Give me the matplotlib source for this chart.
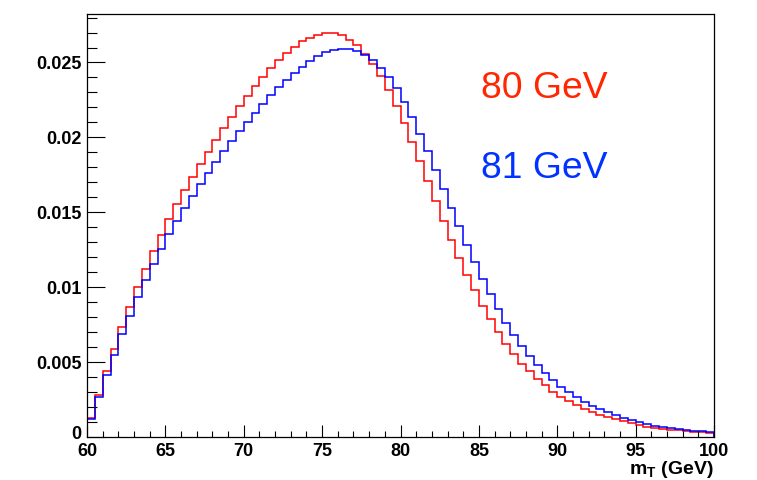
import numpy as np
import matplotlib
matplotlib.use("Agg")
import matplotlib.pyplot as plt
import matplotlib.transforms as mtransforms
from matplotlib.ticker import MultipleLocator, FuncFormatter

plt.rcParams['font.family'] = ['Liberation Sans', 'DejaVu Sans']
plt.rcParams['mathtext.fontset'] = 'custom'
plt.rcParams['mathtext.rm'] = 'Liberation Sans:bold'
plt.rcParams['mathtext.bf'] = 'Liberation Sans:bold'

# histogram binning (GeV)
mt_lo = 60
mt_hi = 100
bin_width = 0.5

# normalised m_T distributions, one value per 0.5 GeV bin
h_80 = [0.00129, 0.00282, 0.00438, 0.00587, 0.00731, 0.00869, 0.01000, 0.01122, 0.01240, 0.01347,
        0.01453, 0.01553, 0.01647, 0.01735, 0.01820, 0.01902, 0.01984, 0.02062, 0.02135, 0.02207,
        0.02275, 0.02342, 0.02402, 0.02460, 0.02515, 0.02564, 0.02602, 0.02642, 0.02663, 0.02684,
        0.02697, 0.02697, 0.02681, 0.02653, 0.02616, 0.02558, 0.02493, 0.02411, 0.02316, 0.02211,
        0.02096, 0.01971, 0.01844, 0.01707, 0.01573, 0.01444, 0.01315, 0.01193, 0.01084, 0.00978,
        0.00875, 0.00787, 0.00700, 0.00622, 0.00555, 0.00489, 0.00440, 0.00389, 0.00344, 0.00300,
        0.00268, 0.00240, 0.00213, 0.00189, 0.00169, 0.00149, 0.00131, 0.00118, 0.00104, 0.00091,
        0.00078, 0.00069, 0.00062, 0.00056, 0.00049, 0.00044, 0.00040, 0.00036, 0.00031, 0.00029]

h_81 = [0.00119, 0.00265, 0.00411, 0.00550, 0.00687, 0.00811, 0.00936, 0.01049, 0.01155, 0.01255,
        0.01355, 0.01444, 0.01529, 0.01611, 0.01689, 0.01762, 0.01838, 0.01907, 0.01975, 0.02042,
        0.02104, 0.02164, 0.02224, 0.02280, 0.02335, 0.02384, 0.02429, 0.02470, 0.02509, 0.02542,
        0.02569, 0.02582, 0.02591, 0.02591, 0.02578, 0.02553, 0.02518, 0.02462, 0.02404, 0.02327,
        0.02233, 0.02133, 0.02022, 0.01907, 0.01782, 0.01655, 0.01527, 0.01407, 0.01284, 0.01167,
        0.01055, 0.00955, 0.00855, 0.00762, 0.00682, 0.00607, 0.00540, 0.00482, 0.00429, 0.00378,
        0.00335, 0.00298, 0.00267, 0.00233, 0.00209, 0.00184, 0.00164, 0.00144, 0.00127, 0.00111,
        0.00098, 0.00084, 0.00075, 0.00067, 0.00058, 0.00051, 0.00047, 0.00042, 0.00038, 0.00033]

labels = ["80 GeV", "81 GeV"]

edges = np.arange(mt_lo, mt_hi + bin_width / 2, bin_width)

fig = plt.figure(figsize=(7.57, 4.8), dpi=100)
ax = fig.add_axes([87 / 757, 1 - 437 / 480, 627 / 757, 423.5 / 480])

ax.stairs(h_80, edges, baseline=0, color="#ff0000", lw=1.1)
ax.stairs(h_81, edges, baseline=0, color="#0000ff", lw=1.1)

ax.set_xlim(mt_lo, mt_hi)
ax.set_ylim(0, 0.02827)

ax.xaxis.set_major_locator(MultipleLocator(5))
ax.xaxis.set_minor_locator(MultipleLocator(1))
ax.yaxis.set_major_locator(MultipleLocator(0.005))
ax.yaxis.set_minor_locator(MultipleLocator(0.001))
ax.yaxis.set_major_formatter(FuncFormatter(lambda v, p: "%g" % round(v, 4)))
ax.xaxis.set_major_formatter(FuncFormatter(lambda v, p: "%g" % v))

ax.tick_params(axis="x", which="major", direction="in", length=8.6, width=0.8, pad=4)
ax.tick_params(axis="x", which="minor", direction="in", length=4.3, width=0.8)
ax.tick_params(axis="y", which="major", direction="in", length=13, width=0.8, pad=4)
ax.tick_params(axis="y", which="minor", direction="in", length=7, width=0.8)
for lab in ax.get_xticklabels() + ax.get_yticklabels():
    lab.set_fontweight("bold")
    lab.set_fontsize(13)
for s in ax.spines.values():
    s.set_linewidth(0.9)

# nudge the "0" label up a little so it does not run into "60"
fig.canvas.draw()
zero_lab = ax.get_yticklabels()[0]
for lab in ax.get_yticklabels():
    if lab.get_text() == "0":
        lab.set_transform(lab.get_transform() + mtransforms.ScaledTranslation(0, 3 / 72, fig.dpi_scale_trans))

fig.text(714 / 757, 1 - 470 / 480, r"$\mathbf{m_{T}}$ (GeV)", ha="right", va="center",
         fontsize=14, fontweight="bold")

fig.text(481 / 757, 1 - 98.3 / 480, labels[0], color="#ff2600", fontsize=26.8, va="baseline")
fig.text(481 / 757, 1 - 178.3 / 480, labels[1], color="#0033ff", fontsize=26.8, va="baseline")

fig.savefig("out.png", dpi=100)
